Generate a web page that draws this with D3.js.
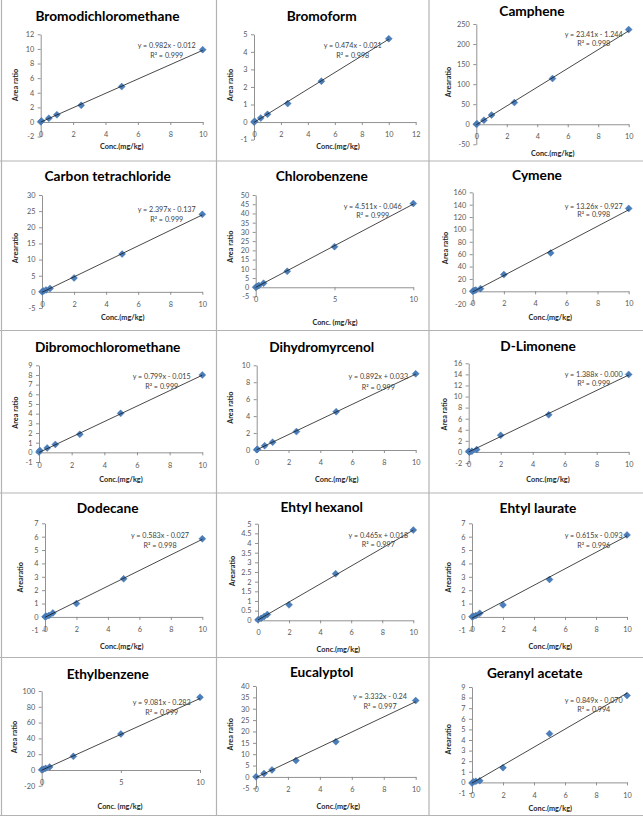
<!DOCTYPE html>
<html><head><meta charset="utf-8">
<script src="https://cdn.jsdelivr.net/npm/d3@7"></script>
<style>body{margin:0;background:#fff}svg{display:block}</style>
</head><body>
<svg id="c" width="643" height="818"></svg>
<script>
// ---------- DATA ----------
const compounds = ["Bromodichloromethane","Bromoform","Camphene","Carbon tetrachloride","Chlorobenzene","Cymene",
  "Dibromochloromethane","Dihydromyrcenol","D-Limonene","Dodecane","Ehtyl hexanol","Ehtyl laurate",
  "Ethylbenzene","Eucalyptol","Geranyl acetate"];
const yTitles = ["Area ratio","Area ratio","Arearatio","Arearatio","Area ratio","Area ratio",
  "Area ratio","Area ratio","Area ratio","Arearatio","Arearatio","Arearatio",
  "Area ratio","Area ratio","Arearatio"];
const xTitles = ["Conc.(mg/kg)","Conc.(mg/kg)","Conc.(mg/kg)","Conc.(mg/kg)","Conc. (mg/kg)","Conc.(mg/kg)",
  "Conc.(mg/kg)","Conc.(mg/kg)","Conc.(mg/kg)","Conc.(mg/kg)","Conc.(mg/kg)","Conc.(mg/kg)",
  "Conc. (mg/kg)","Conc.(mg/kg)","Conc.(mg/kg)"];
const concentrations = [
  [0, 0.05, 0.5, 1, 2.5, 5, 10],
  [0, 0.05, 0.5, 1, 2.5, 5, 10],
  [0, 0.05, 0.5, 1, 2.5, 5, 10],
  [0, 0.1, 0.25, 0.5, 2, 5, 10],
  [0, 0.1, 0.2, 0.5, 2, 5, 10],
  [0, 0.1, 0.2, 0.5, 2, 5, 10],
  [0, 0.05, 0.5, 1, 2.5, 5, 10],
  [0, 0.05, 0.5, 1, 2.5, 5, 10],
  [0, 0.05, 0.2, 0.5, 2, 5, 10],
  [0, 0.1, 0.25, 0.5, 2, 5, 10],
  [0, 0.2, 0.4, 0.6, 2, 5, 10],
  [0, 0.1, 0.25, 0.5, 2, 5, 10],
  [0, 0.1, 0.25, 0.5, 2, 5, 10],
  [0, 0.5, 1, 2.5, 5, 10],
  [0, 0.1, 0.25, 0.5, 2, 5, 10]
];
const areaRatios = [
  [0.02, 0.15, 0.5, 1.0, 2.28, 4.84, 9.9],
  [0.0, 0.04, 0.23, 0.44, 1.05, 2.33, 4.75],
  [0.3, 1.0, 10, 23, 54, 114, 236],
  [0.05, 0.3, 0.6, 1.05, 4.3, 11.7, 24.0],
  [0.05, 0.5, 0.9, 2.2, 8.7, 22.0, 45.4],
  [0.3, 1.2, 2.0, 4.3, 27, 62, 134],
  [0.03, 0.2, 0.45, 0.82, 1.86, 4.03, 8.0],
  [0.04, 0.08, 0.5, 0.92, 2.17, 4.53, 9.0],
  [0.1, -0.05, 0.12, 0.42, 3.0, 6.7, 14.0],
  [0.02, 0.05, 0.1, 0.3, 1.0, 2.85, 5.84],
  [0.03, 0.1, 0.2, 0.3, 0.8, 2.41, 4.67],
  [0.02, 0.05, 0.1, 0.27, 0.9, 2.8, 6.13],
  [0.3, 1.0, 2.1, 3.8, 17.3, 45.6, 92.0],
  [0.05, 1.5, 3.1, 7.2, 15.5, 33.6],
  [-0.06, 0.06, 0.1, 0.16, 1.39, 4.6, 8.19]
];
const equations = ["y = 0.982x - 0.012","y = 0.474x - 0.021","y = 23.41x - 1.244","y = 2.397x - 0.137",
  "y = 4.511x - 0.046","y = 13.26x - 0.927","y = 0.799x - 0.015","y = 0.892x + 0.033","y = 1.388x - 0.000",
  "y = 0.583x - 0.027","y = 0.465x + 0.018","y = 0.615x - 0.093","y = 9.081x - 0.283","y = 3.332x - 0.24",
  "y = 0.849x - 0.070"];
const rSquared = ["0.999","0.998","0.998","0.999","0.999","0.998","0.999","0.999","0.999","0.998","0.997",
  "0.996","0.999","0.997","0.994"];
const xTickLabels = [
  [0,2,4,6,8,10],[0,2,4,6,8,10,12],[0,2,4,6,8,10],[0,2,4,6,8,10],[0,5,10],[0,2,4,6,8,10],
  [0,2,4,6,8,10],[0,2,4,6,8,10],[0,2,4,6,8,10],[0,2,4,6,8,10],[0,2,4,6,8,10],[0,2,4,6,8,10],
  [0,5,10],[0,2,4,6,8,10],[0,2,4,6,8,10]
];
const yTickLabels = [
  [-2,0,2,4,6,8,10,12],
  [-1,0,1,2,3,4,5],
  [-50,0,50,100,150,200,250],
  [-5,0,5,10,15,20,25,30],
  [-5,0,5,10,15,20,25,30,35,40,45,50],
  [-20,0,20,40,60,80,100,120,140,160],
  [-1,0,1,2,3,4,5,6,7,8,9],
  [0,2,4,6,8,10],
  [-2,0,2,4,6,8,10,12,14,16],
  [-1,0,1,2,3,4,5,6,7],
  [0,0.5,1,1.5,2,2.5,3,3.5,4,4.5,5],
  [-1,0,1,2,3,4,5,6,7],
  [-20,0,20,40,60,80,100],
  [-5,0,5,10,15,20,25,30,35,40],
  [-1,0,1,2,3,4,5,6,7,8,9]
];

// ---------- LAYOUT (pixel frames of each pasted chart) ----------
const frames = [
  {l:40.7,r:202.7,t:34.3,b:136.6,tx:107.5,ty:16,ex:166.7,ey:45.7,ry:55,yx:15,yy:85,xx:121.7,xy:146.7},
  {l:254,r:415.7,t:34.3,b:139.6,tx:321.7,ty:16,ex:352.7,ey:45.7,ry:55,yx:230.7,yy:85,xx:338,xy:146.7},
  {l:476.3,r:628.7,t:24,b:144.3,tx:532,ty:11,ex:593.7,ey:34.3,ry:43.3,yx:448,yy:82,xx:552.7,xy:153.3},
  {l:42,r:202.3,t:195,b:308,tx:107.7,ty:176.3,ex:166.7,ey:209.7,ry:219,yx:15,yy:248,xx:122.7,xy:317},
  {l:255.7,r:413.3,t:195,b:296.5,tx:321.7,ty:176,ex:372.7,ey:206.7,ry:215,yx:230.7,yy:246.7,xx:335,xy:322.7},
  {l:472.7,r:628.7,t:192.3,b:303.7,tx:537,ty:175.7,ex:593.7,ey:206.3,ry:214.7,yx:445.3,yy:248,xx:550.3,xy:317},
  {l:39,r:202.3,t:365.3,b:462,tx:107.7,ty:347,ex:161.7,ey:376.7,ry:386,yx:15,yy:412.7,xx:121,xy:479.3},
  {l:256.7,r:415.7,t:365.3,b:450,tx:321.7,ty:347.7,ex:378.3,ey:376.7,ry:387.7,yx:230.7,yy:407.7,xx:336.7,xy:479.3},
  {l:468.7,r:628.7,t:363.3,b:463,tx:538,ty:346,ex:593.7,ey:374.3,ry:383.3,yx:444.7,yy:414.3,xx:548,xy:479.3},
  {l:45,r:202.3,t:523.3,b:630.3,tx:107.7,ty:508.3,ex:160,ey:535.7,ry:545,yx:20.7,yy:577.3,xx:121.7,xy:646.3},
  {l:258,r:413.3,t:523.7,b:620.3,tx:321.7,ty:507.7,ex:378.3,ey:535.3,ry:544.3,yx:232.7,yy:571,xx:338.3,xy:649.3},
  {l:472,r:627,t:523.3,b:630.3,tx:538,ty:508.3,ex:593.7,ey:535.7,ry:545,yx:448,yy:577.3,xx:550.3,xy:646.3},
  {l:41.7,r:200,t:691,b:785.8,tx:107.7,ty:674.7,ex:161.7,ey:702.7,ry:712,yx:14,yy:737,xx:120,xy:806},
  {l:256,r:415.7,t:686,b:788.3,tx:321.7,ty:672.7,ex:380,ey:696,ry:706,yx:230.7,yy:734.3,xx:338.3,xy:806},
  {l:472,r:627,t:687,b:793,tx:534.7,ty:673.7,ex:593.7,ey:700.3,ry:709.3,yx:448,yy:739.3,xx:550.3,xy:808.7}
];

const FONT = "Lato, 'Open Sans', sans-serif";
const svg = d3.select("#c");
svg.append("rect").attr("width",643).attr("height",818).attr("fill","#fff");

// table grid lines
const grid = svg.append("g").attr("stroke","#b3b3b3").attr("stroke-width",1.2);
[1.5, 216.5, 429].forEach(xv => grid.append("line").attr("x1",xv).attr("x2",xv).attr("y1",0).attr("y2",815.5));
[161, 330.5, 493, 657.5, 815.5].forEach(yv => grid.append("line").attr("x1",0).attr("x2",643).attr("y1",yv).attr("y2",yv));

function parseEq(s){
  const m = s.match(/y = ([\d.]+)x ([+-]) ([\d.]+)/);
  return {slope:+m[1], intercept:(m[2]==="-"?-1:1)*(+m[3])};
}

compounds.forEach((name,i) => {
  const f = frames[i];
  const xt = xTickLabels[i], yt = yTickLabels[i];
  const x = d3.scaleLinear().domain([xt[0], xt[xt.length-1]]).range([f.l, f.r]);
  const y = d3.scaleLinear().domain([yt[0], yt[yt.length-1]]).range([f.b, f.t]);
  const g = svg.append("g");

  const ya = g.append("g").attr("transform",`translate(${x(0)},0)`)
    .call(d3.axisLeft(y).tickValues(yt).tickSize(3).tickSizeOuter(0).tickPadding(3.5).tickFormat(d=>d));
  const xa = g.append("g").attr("transform",`translate(0,${y(0)})`)
    .call(d3.axisBottom(x).tickValues(xt).tickSize(3).tickSizeOuter(0).tickPadding(7).tickFormat(d=>d));
  [ya,xa].forEach(a=>{
    a.select(".domain").attr("stroke","#868686").attr("stroke-width",0.9);
    a.selectAll(".tick line").attr("stroke","#868686").attr("stroke-width",0.9);
    a.selectAll(".tick text").attr("fill","#595959").style("font-family",FONT).style("font-size","7.3px");
  });

  const pts = concentrations[i].map((c,k)=>({c, v:areaRatios[i][k]}));
  g.selectAll("path.pt").data(pts).join("path").attr("class","pt")
    .attr("d","M0,-3.5L3.5,0L0,3.5L-3.5,0Z")
    .attr("transform",d=>`translate(${x(d.c)},${y(d.v)})`)
    .attr("fill","#4a7ebb").attr("stroke","#3c6da6").attr("stroke-width",0.4);

  const eq = parseEq(equations[i]);
  const [x0,x1] = d3.extent(concentrations[i]);
  g.append("line")
    .attr("x1",x(x0)).attr("y1",y(eq.slope*x0+eq.intercept))
    .attr("x2",x(x1)).attr("y2",y(eq.slope*x1+eq.intercept))
    .attr("stroke","#1a1a1a").attr("stroke-width",0.8);

  g.append("text").attr("x",f.ex).attr("y",f.ey).attr("text-anchor","middle").attr("dy","0.35em")
    .attr("fill","#404040").style("font-family",FONT).style("font-size","7.2px").text(equations[i]);
  g.append("text").attr("x",f.ex).attr("y",f.ry).attr("text-anchor","middle").attr("dy","0.35em")
    .attr("fill","#404040").style("font-family",FONT).style("font-size","7.2px").text("R² = " + rSquared[i]);

  g.append("text").attr("x",f.tx).attr("y",f.ty).attr("text-anchor","middle").attr("dy","0.35em")
    .attr("fill","#000").style("font-family",FONT).style("font-weight","bold").style("font-size","13.7px").text(name);
  g.append("text").attr("transform",`translate(${f.yx},${f.yy}) rotate(-90)`).attr("text-anchor","middle").attr("dy","0.35em")
    .attr("fill","#262626").style("font-family",FONT).style("font-weight","bold").style("font-size","7.3px").text(yTitles[i]);
  g.append("text").attr("x",f.xx).attr("y",f.xy).attr("text-anchor","middle").attr("dy","0.35em")
    .attr("fill","#262626").style("font-family",FONT).style("font-weight","bold").style("font-size","7.3px").text(xTitles[i]);
});
</script>
</body></html>
